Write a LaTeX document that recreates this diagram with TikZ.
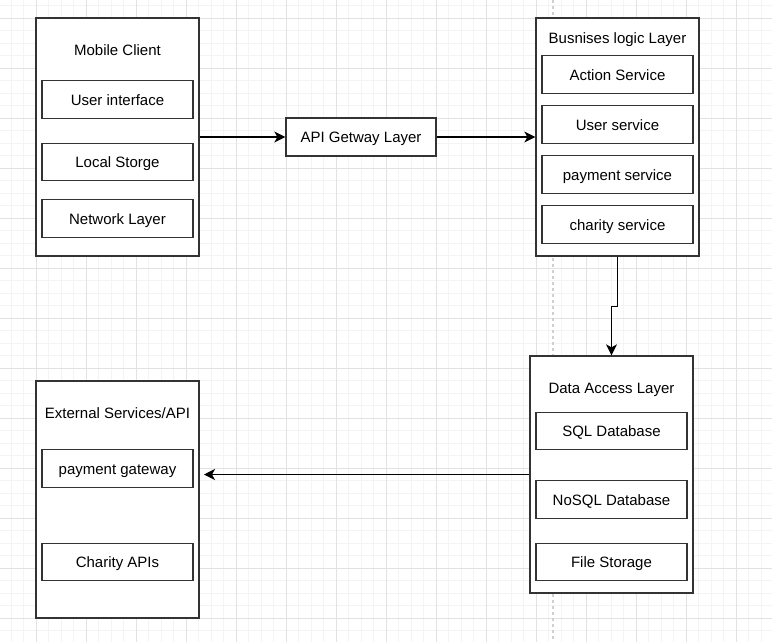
\documentclass[tikz,border=0pt]{standalone}
\usepackage{fontspec}
\setmainfont{Liberation Sans}
\usetikzlibrary{arrows.meta}
\definecolor{gridminor}{RGB}{244,244,244}
\definecolor{gridmajor}{RGB}{226,226,226}
\definecolor{guide}{RGB}{208,208,208}
\definecolor{edge}{RGB}{51,51,51}

\begin{document}
\begin{tikzpicture}[>={Stealth[length=11pt,width=11pt,inset=3pt]},line width=1.3pt,
    x=1pt,y=-1pt,font=\fontsize{15}{18}\selectfont,
    every node/.style={text height=13pt,text depth=2pt}]

    % ============================
    % Background: grid and guide
    % ============================
    \useasboundingbox (0,0) rectangle (772,641);
    \begin{scope}
    \clip (0,0) rectangle (772,641);
    \fill[white] (0,0) rectangle (772,641);
    \begin{scope}[shift={(36,18)}]
    \draw[gridminor,line width=1pt,step=12.5pt] (-50,650) grid (750,-50);
    \draw[gridmajor,line width=1pt,step=50pt] (-50,650) grid (750,-50);
    \end{scope}
    \draw[guide,line width=2pt,dash pattern=on 3pt off 3pt] (553,0) -- (553,641);
    \end{scope}

    \tikzstyle{layer}=[rectangle,draw=edge,fill=white,inner sep=0pt,
            minimum width=163pt,minimum height=238pt]
    \tikzstyle{part}=[rectangle,draw=edge,fill=white,inner sep=0pt,
            minimum width=151pt,minimum height=37.5pt]

    % ============================
    % Top Row: Client, Gateway, Logic
    % ============================

    \node[layer] (mob) at (117.5,137) {};
    \node (mobttl) at (117.5,49.5) {Mobile Client};
    \node[part] (ui) at (117.5,99.5) {User interface};
    \node[part] (store) at (117.5,162) {Local Storge};
    \node[part] (net) at (117.5,218.5) {Network Layer};

    \node[part,minimum width=150pt,minimum height=38pt] (api) at (361,137) {API Getway Layer};

    \node[layer] (bl) at (617.5,137) {};
    \node (blttl) at (617.5,37.5) {Busnises logic Layer};
    \node[part] (act) at (617.5,74.5) {Action Service};
    \node[part] (user) at (617.5,124.5) {User service};
    \node[part] (pay) at (617.5,174.5) {payment service};
    \node[part] (char) at (617.5,224.5) {charity service};

    % ============================
    % Bottom Row: Data, External
    % ============================

    \node[layer,minimum height=237pt] (dal) at (611.5,474.5) {};
    \node (dalttl) at (611.5,387.5) {Data Access Layer};
    \node[part] (sql) at (611.5,431) {SQL Database};
    \node[part] (nosql) at (611.5,499.5) {NoSQL Database};
    \node[part] (file) at (611.5,562) {File Storage};

    \node[layer,minimum height=237pt] (ext) at (117.5,499.5) {};
    \node (extttl) at (117.5,412.5) {External Services/API};
    \node[part] (gate) at (117.5,468.5) {payment gateway};
    \node[part] (capi) at (117.5,562) {Charity APIs};

    % Connectors
    \coordinate (extin) at (204,474.5);
    \draw[->] (mob.east) -- (api.west);
    \draw[->] (api.east) -- (bl.west);
    \draw[->] (bl.south) -- ++(0,50) -| (dal.north);
    \draw[->] (dal.west) -- (extin);

\end{tikzpicture}
\end{document}
